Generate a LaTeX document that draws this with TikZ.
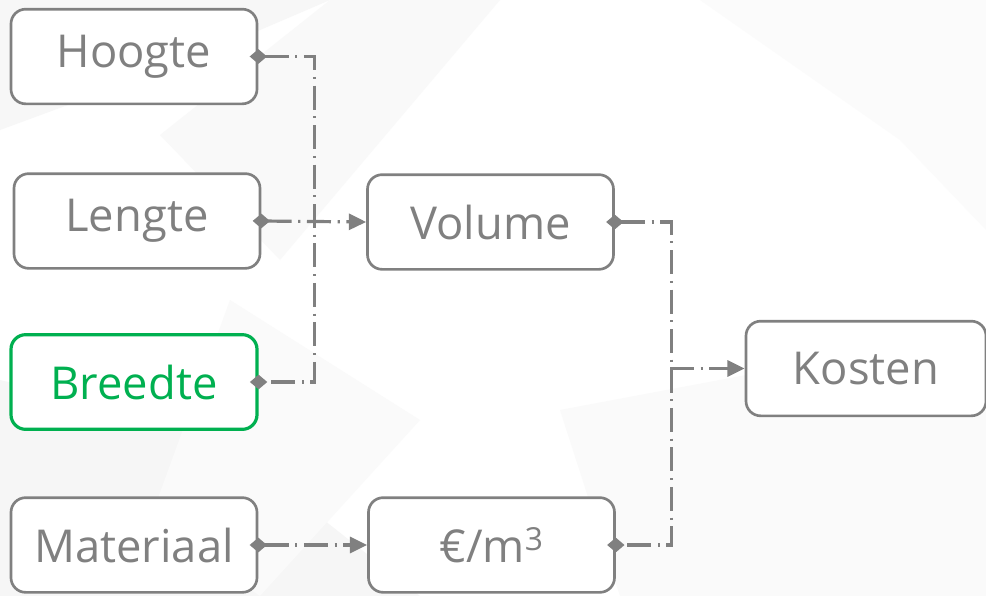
\documentclass[tikz,border=0pt]{standalone}
\usepackage{fontspec}
\setmainfont{Open Sans}
\usetikzlibrary{arrows.meta,positioning}
\definecolor{linegray}{RGB}{128,128,128}
\definecolor{okgreen}{RGB}{0,176,80}
\tikzset{
  box/.style={rectangle, rounded corners=11pt, draw=linegray, line width=2pt, fill=white,
    minimum width=184.5pt, minimum height=71pt, text=linegray,
    font=\fontsize{34}{40}\selectfont},
  link/.style={draw=linegray, line width=2.4pt,
    dash pattern=on 18pt off 5pt on 1.6pt off 5pt},
  dia/.tip={Diamond[length=13pt,width=11pt]},
  tri/.tip={Triangle[length=13pt,width=12pt]},
}

\begin{document}
\begin{tikzpicture}[x=0.75pt,y=-0.75pt]
\useasboundingbox (0,0) rectangle (986,596);
% background
\fill[white] (0,0) rectangle (986,596);
\fill[gray!6] (0,130) -- (190,60) -- (330,0) -- (0,0) -- cycle;
\fill[gray!5] (160,135) -- (330,0) -- (500,0) -- (280,260) -- cycle;
\fill[gray!7] (0,380) -- (210,430) -- (420,596) -- (0,596) -- cycle;
\fill[gray!4] (560,410) -- (986,330) -- (986,596) -- (620,596) -- cycle;
\fill[gray!4] (230,300) -- (420,420) -- (260,596) -- (150,520) -- cycle;
\fill[gray!3] (700,0) -- (986,0) -- (986,230) -- (900,140) -- cycle;

% nodes
\node (hoog) [box] at (134,56.5) {Hoogte};
\node (len) [box] at (137,221) {Lengte};
\node (bre) [box, draw=okgreen, text=okgreen, line width=2.4pt] at (134,382) {Breedte};
\node (mat) [box] at (134,545) {Materiaal};
\node (vol) [box] at (490.5,222) {Volume};
\node (eur) [box] at (491.5,545) {€/m\textsuperscript{3}};
\node (kos) [box, minimum width=180pt] at (866,368.5) {Kosten};
\coordinate (jk) at (670,368.5);

% connectors
\draw[link, dia-dia, shorten <=-6.5pt, shorten >=-6.5pt] (hoog.east) -- ++(56,0) |- (bre.east);
\draw[link, dia-tri, shorten <=-6.5pt] (len.east) -- (vol.west);
\draw[link, dia-dia, shorten <=-6.5pt, shorten >=-6.5pt] (vol.east) -- ++(57,0) |- (eur.east);
\draw[link, -tri] (jk) -- (kos.west);
\draw[link, dia-tri, shorten <=-6.5pt] (mat.east) -- (eur.west);
\end{tikzpicture}
\end{document}
